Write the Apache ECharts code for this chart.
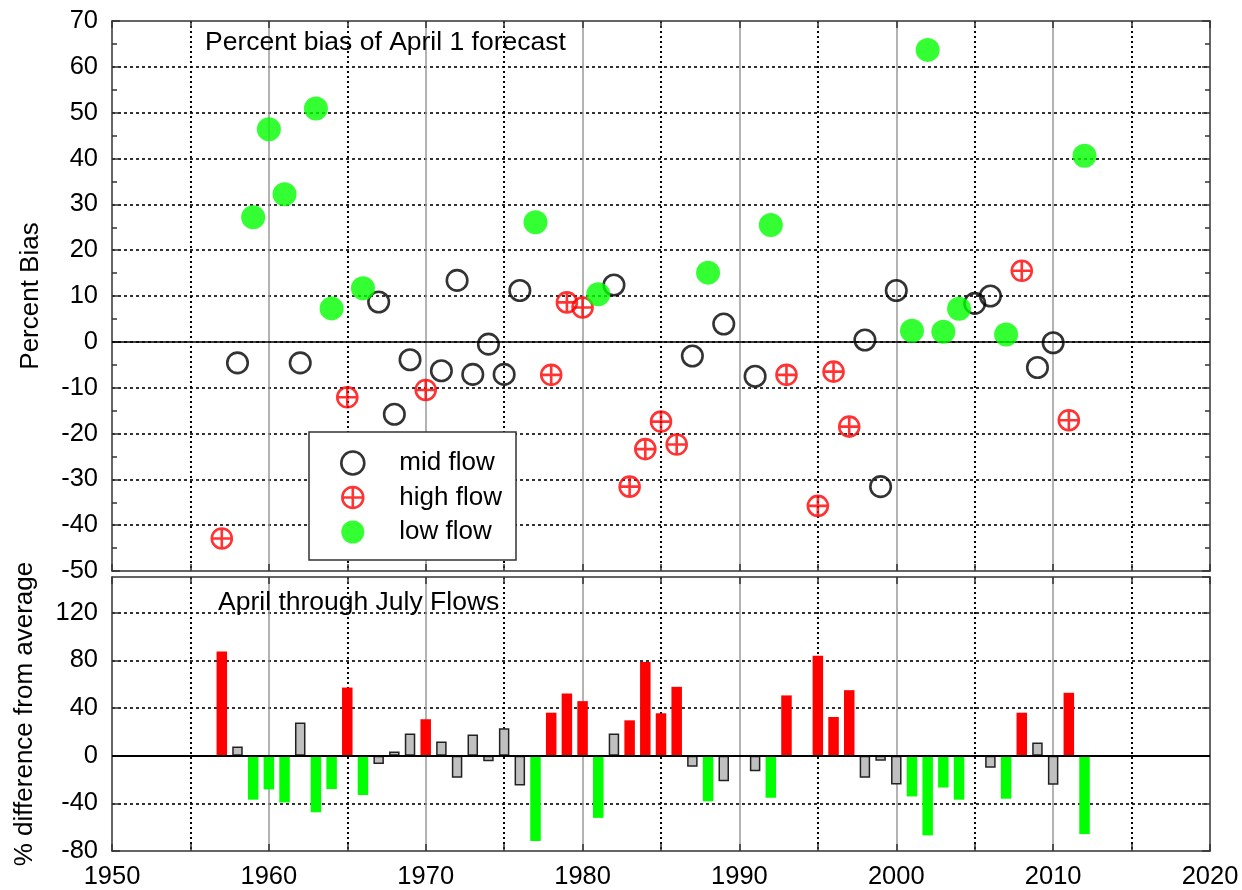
<!DOCTYPE html>
<html>
<head>
<meta charset="utf-8">
<script src="https://cdn.jsdelivr.net/npm/echarts@6/dist/echarts.min.js"></script>
<style>
  html, body { margin: 0; padding: 0; background: #fff; }
  #chart { width: 1242px; height: 890px; }
</style>
</head>
<body>
<div id="chart"></div>
<script>
// Water years with an April 1 forecast
const years = [
  1957, 1958, 1959, 1960, 1961, 1962, 1963, 1964, 1965, 1966,
  1967, 1968, 1969, 1970, 1971, 1972, 1973, 1974, 1975, 1976,
  1977, 1978, 1979, 1980, 1981, 1982, 1983, 1984, 1985, 1986,
  1987, 1988, 1989, 1991, 1992, 1993, 1995, 1996, 1997, 1998,
  1999, 2000, 2001, 2002, 2003, 2004, 2005, 2006, 2007, 2008,
  2009, 2010, 2011, 2012
];
// Flow class of each year: H = high, M = mid, L = low
const flowClass = [
  'H', 'M', 'L', 'L', 'L', 'M', 'L', 'L', 'H', 'L',
  'M', 'M', 'M', 'H', 'M', 'M', 'M', 'M', 'M', 'M',
  'L', 'H', 'H', 'H', 'L', 'M', 'H', 'H', 'H', 'H',
  'M', 'L', 'M', 'M', 'L', 'H', 'H', 'H', 'H', 'M',
  'M', 'M', 'L', 'L', 'L', 'L', 'M', 'M', 'L', 'H',
  'M', 'M', 'H', 'L'
];
// Percent bias of the April 1 forecast
const forecastBias = [
  -42.9, -4.6, 27.2, 46.4, 32.2, -4.6, 50.9, 7.3, -12.1, 11.7,
  8.7, -15.8, -3.9, -10.5, -6.3, 13.4, -7.1, -0.5, -7.1, 11.2,
  26.1, -7.2, 8.6, 7.5, 10.4, 12.4, -31.6, -23.4, -17.4, -22.4,
  -3.1, 15.1, 3.9, -7.5, 25.5, -7.2, -35.8, -6.5, -18.5, 0.4,
  -31.6, 11.2, 2.4, 63.7, 2.2, 7.2, 8.4, 10.0, 1.6, 15.5,
  -5.6, -0.2, -17.1, 40.6
];
// April-July flow, % difference from average
const flowDiff = [
  87.5, 7.8, -36.9, -28.3, -39.2, 27.8, -47.5, -28.0, 57.2, -33.0,
  -6.9, 3.6, 18.6, 30.6, 12.0, -18.6, 17.8, -4.7, 23.1, -25.0,
  -71.7, 36.1, 52.2, 45.8, -52.2, 18.6, 29.7, 78.6, 35.6, 57.8,
  -9.2, -38.3, -21.4, -13.0, -35.3, 50.6, 83.9, 32.5, 55.0, -18.6,
  -4.2, -24.2, -34.2, -66.9, -26.7, -36.9, -1.0, -10.2, -36.1, 36.1,
  11.1, -24.4, 52.8, -65.8
];
const classLabels = { M: 'mid flow', H: 'high flow', L: 'low flow' };
const panelTitles = ['Percent bias of April 1 forecast', 'April through July Flows'];
const axisNames = ['Percent Bias', '% difference from average'];

const FONT = '"Liberation Sans", Arial, Helvetica, sans-serif';
const RED = '#ff0000', GREEN = '#00ff00', GRAY = '#c0c0c0';
const crossCircle = 'path://M1,11 A10,10 0 1,1 21,11 A10,10 0 1,1 1,11 Z M11,0 L11,22 M0,11 L22,11';

const markerStyle = {
  M: { symbol: 'circle', symbolSize: 20.5, itemStyle: { color: 'transparent', borderColor: '#000', borderWidth: 2.6 } },
  H: { symbol: crossCircle, symbolSize: 22, itemStyle: { color: 'transparent', borderColor: RED, borderWidth: 2.6 } },
  L: { symbol: 'circle', symbolSize: 24, itemStyle: { color: GREEN, borderWidth: 0 } }
};
const barColor = { H: RED, L: GREEN, M: GRAY };

function pointsOf(cls) {
  const out = [];
  years.forEach((y, i) => { if (flowClass[i] === cls) out.push([y, forecastBias[i]]); });
  return out;
}

const edgeLine = { show: true, onZero: false, lineStyle: { color: '#333', width: 1.5 } };
const dotted = { color: '#000', width: 1.6, type: [3, 3] };

function xAxisFor(gridIndex, pos, labels) {
  const a = {
    type: 'value', gridIndex, position: pos, min: 1950, max: 2020, interval: 10,
    axisLine: edgeLine,
    axisTick: { show: true, inside: true, length: 7, lineStyle: { color: '#333', width: 1.5 } },
    minorTick: { show: true, splitNumber: 2, length: 7, lineStyle: { color: '#333', width: 1.5 } },
    axisLabel: { show: labels, fontFamily: FONT, fontSize: 25.5, color: '#000', margin: 13,
      formatter: v => String(v) },
    splitLine: { show: false },
    minorSplitLine: { show: false }
  };
  if (pos === 'bottom') {
    a.splitLine = { show: true, showMinLine: false, showMaxLine: false, lineStyle: { color: '#9a9a9a', width: 1.5 } };
    a.minorSplitLine = { show: true, lineStyle: { color: '#000', width: 2, type: [2, 3] } };
  }
  return a;
}

function yAxisFor(gridIndex, pos, min, max, interval, minor, name, nameGap) {
  const left = pos === 'left';
  return {
    type: 'value', gridIndex, position: pos, min, max, interval,
    axisLine: edgeLine,
    axisTick: { show: true, inside: true, length: 8, lineStyle: { color: '#333', width: 1.5 } },
    minorTick: { show: minor, splitNumber: 2, length: 5, lineStyle: { color: '#333', width: 1.5 } },
    axisLabel: { show: left, showMaxLabel: max === 70, fontFamily: FONT, fontSize: 25.5, color: '#000', margin: 14,
      formatter: v => String(v) },
    splitLine: { show: left, showMinLine: false, showMaxLine: false, lineStyle: dotted },
    name: left ? name : '',
    nameLocation: 'middle',
    nameGap,
    nameTextStyle: { fontFamily: FONT, fontSize: 26, color: '#000' }
  };
}

const scatterSeries = ['M', 'H', 'L'].map((cls, k) => {
  const s = {
    type: 'scatter', name: classLabels[cls], xAxisIndex: 0, yAxisIndex: 0,
    data: pointsOf(cls), symbol: markerStyle[cls].symbol, symbolSize: markerStyle[cls].symbolSize,
    itemStyle: markerStyle[cls].itemStyle, z: 3 + k, silent: true
  };
  if (k === 0) {
    s.markLine = {
      silent: true, symbol: 'none', label: { show: false }, animation: false,
      lineStyle: { color: '#000', type: 'solid', width: 1.5 },
      data: [{ yAxis: 0 }]
    };
  }
  return s;
});

const barSeries = {
  type: 'bar', name: 'flow', xAxisIndex: 2, yAxisIndex: 2, barWidth: 10.5, silent: true,
  data: years.map((y, i) => ({
    value: [y, flowDiff[i]],
    itemStyle: flowClass[i] === 'M'
      ? { color: GRAY, borderColor: '#222', borderWidth: 1.5 }
      : { color: barColor[flowClass[i]], borderWidth: 0 }
  })),
  markLine: {
    silent: true, symbol: 'none', label: { show: false }, animation: false,
    lineStyle: { color: '#000', type: 'solid', width: 2.2 },
    data: [{ yAxis: 0 }]
  }
};

const legendData = ['M', 'H', 'L'].map(cls => ({
  name: classLabels[cls],
  icon: cls === 'H' ? crossCircle : 'circle',
  itemStyle: cls === 'L'
    ? { color: GREEN, borderWidth: 0 }
    : { color: 'transparent', borderColor: cls === 'H' ? RED : '#000', borderWidth: 2.6 }
}));

const option = {
  animation: false,
  backgroundColor: '#fff',
  textStyle: { fontFamily: FONT },
  grid: [
    { left: 112, top: 21, width: 1098, height: 550 },
    { left: 112, top: 577, width: 1098, height: 276 }
  ],
  xAxis: [
    xAxisFor(0, 'bottom', false),
    xAxisFor(0, 'top', false),
    xAxisFor(1, 'bottom', true),
    xAxisFor(1, 'top', false)
  ],
  yAxis: [
    yAxisFor(0, 'left', -50, 70, 10, true, axisNames[0], 68),
    yAxisFor(0, 'right', -50, 70, 10, true, '', 0),
    yAxisFor(1, 'left', -80, 150, 40, false, axisNames[1], 74),
    yAxisFor(1, 'right', -80, 150, 40, false, '', 0)
  ],
  legend: {
    orient: 'vertical', left: 340, top: 450, padding: 0,
    itemWidth: 23, itemHeight: 23, itemGap: 8.5,
    textStyle: { fontFamily: FONT, fontSize: 26, color: '#000', lineHeight: 24, padding: [0, 0, 0, 30] },
    selectedMode: false, z: 6,
    data: legendData
  },
  graphic: [
    { type: 'rect', z: 5, shape: { x: 309, y: 432, width: 207, height: 128 },
      style: { fill: '#fff', stroke: '#333', lineWidth: 1.5 } },
    { type: 'text', z: 5, x: 205, y: 43,
      style: { text: panelTitles[0], font: '26.5px ' + FONT, fill: '#000', verticalAlign: 'middle' } },
    { type: 'text', z: 5, x: 218, y: 602.5,
      style: { text: panelTitles[1], font: '26.5px ' + FONT, fill: '#000', verticalAlign: 'middle' } }
  ],
  series: [...scatterSeries, barSeries]
};

const chart = echarts.init(document.getElementById('chart'), null, { renderer: 'canvas' });
chart.setOption(option);
</script>
</body>
</html>
